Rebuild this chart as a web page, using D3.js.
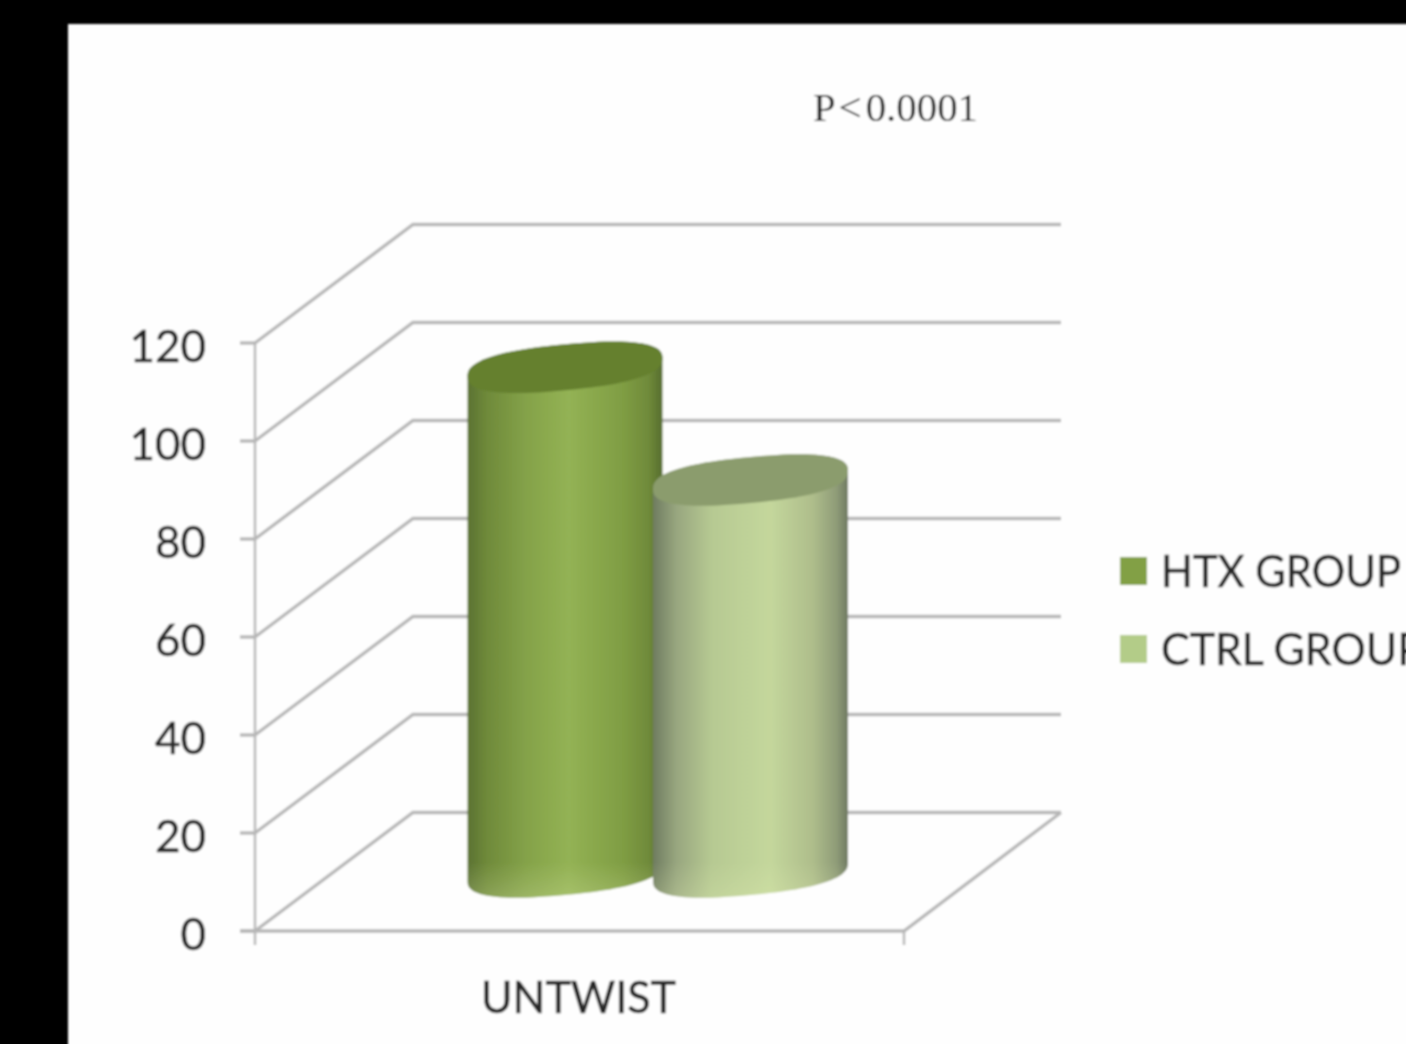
<!DOCTYPE html>
<html><head><meta charset="utf-8">
<style>html,body{margin:0;padding:0;background:#000;overflow:hidden}svg{display:block}</style>
<script src="https://cdn.jsdelivr.net/npm/d3@7"></script></head>
<body><svg id="c" width="1406" height="1044"></svg>
<script>
const category = "UNTWIST";
const seriesNames = ["HTX GROUP", "CTRL GROUP"];
const seriesValues = [103, 80];
const tickValues = [0, 20, 40, 60, 80, 100, 120];
const annotation = "P < 0.0001";

const svg = d3.select("#c");
const defs = svg.append("defs");
defs.append("filter").attr("id","soft").attr("x","-5%").attr("y","-5%").attr("width","110%").attr("height","110%")
  .append("feGaussianBlur").attr("stdDeviation",0.8);
const palettes = [
  {stops:[[0,"#5b7232"],[.1,"#6f8a3a"],[.3,"#84a249"],[.52,"#93b254"],[.8,"#7f9d43"],[.93,"#6f8a3a"],[1,"#566d2e"]],top:"#65802f",swatch:"#82a045"},
  {stops:[[0,"#6f7c60"],[.12,"#98a67f"],[.3,"#b6c992"],[.6,"#c4d79c"],[.82,"#aebd8b"],[.94,"#8f9c78"],[1,"#6f7a62"]],top:"#8b9c6d",swatch:"#b3cc88"}
];
palettes.forEach((p,i)=>{
  const g=defs.append("linearGradient").attr("id","g"+i).attr("x1",0).attr("x2",1).attr("y1",0).attr("y2",0);
  p.stops.forEach(s=>g.append("stop").attr("offset",s[0]).attr("stop-color",s[1]));
});
const rim=defs.append("linearGradient").attr("id","rim").attr("gradientUnits","userSpaceOnUse")
  .attr("x1",0).attr("x2",0).attr("y1",862).attr("y2",896);
rim.append("stop").attr("offset",0).attr("stop-color","#e6f2b8").attr("stop-opacity",0);
rim.append("stop").attr("offset",1).attr("stop-color","#e6f2b8").attr("stop-opacity",0.22);

svg.append("rect").attr("width",1406).attr("height",1044).attr("fill","#000");
const root = svg.append("g").attr("filter","url(#soft)");
root.append("rect").attr("x",68).attr("y",24).attr("width",1400).attr("height",1100).attr("fill","#fefefe");

const y = d3.scaleLinear().domain([0,120]).range([931,343]);
const depth = {dx:158, dy:-118.5};
const frontL = 255, frontR = 904;
const gridColor = "#b6b6b6";

const grid = root.append("g").attr("stroke",gridColor).attr("stroke-width",3.4).attr("fill","none");
grid.selectAll("path.g").data(tickValues).join("path").attr("class","g")
  .attr("d",v=>`M${frontL},${y(v)}L${frontL+depth.dx},${y(v)+depth.dy}L${frontR+depth.dx-1},${y(v)+depth.dy}`);
grid.append("line").attr("x1",frontL).attr("x2",frontL).attr("y1",y(120)).attr("y2",945).attr("stroke-width",2.5);
grid.append("path").attr("d",`M${frontL-15},${y(0)}L${frontR},${y(0)}L${frontR+depth.dx-1},${y(0)+depth.dy}`);
grid.append("line").attr("x1",frontR).attr("x2",frontR).attr("y1",y(0)).attr("y2",945).attr("stroke-width",2.5);
grid.selectAll("line.t").data(tickValues).join("line").attr("class","t")
  .attr("x1",frontL-15).attr("x2",frontL).attr("y1",v=>y(v)).attr("y2",v=>y(v));

// cylinders: end caps are sheared, slightly squared ellipses with rounded shoulders
const x = d3.scalePoint().domain(seriesNames).range([565,750.5]);
const capA=97.5, capB=23, shear=-0.093, capN=2.5;
const capPoint=t=>{
  const c=Math.cos(t), s=Math.sin(t);
  const px=capA*Math.sign(c)*Math.abs(c)**(2/capN);
  const py=capB*Math.sign(s)*Math.abs(s)**(2/capN);
  return [px,py+shear*px];
};
const steps=d3.range(0,49).map(k=>k/48*Math.PI);    // right tip -> bottom -> left tip
const lower=steps.map(capPoint);
const upper=steps.map(t=>capPoint(t+Math.PI));
const toPath=d3.line();
const baseY=872, unit=y(0)-y(1);
seriesNames.forEach((name,i)=>{
  const cx=x(name), topY=baseY-seriesValues[i]*unit;
  const body=[...lower.map(p=>[cx+p[0],baseY+p[1]]),...upper.map(p=>[cx+p[0],topY+p[1]])];
  const d=toPath(body)+"Z";
  root.append("path").attr("fill",`url(#g${i})`).attr("d",d);
  root.append("path").attr("fill","url(#rim)").attr("d",d);
  const cap=[...lower,...upper].map(p=>[cx+p[0],topY+p[1]]);
  root.append("path").attr("d",toPath(cap)+"Z").attr("fill",palettes[i].top);
});

// axis labels
const dark="#262626";
root.selectAll("text.y").data(tickValues).join("text").attr("class","y")
  .attr("x",206).attr("y",v=>y(v)+19).attr("text-anchor","end")
  .attr("font-family","Lato").attr("font-size",44).attr("fill",dark).attr("stroke",dark).attr("stroke-width",0.5).text(d=>d);
root.append("text").attr("x",481).attr("y",1013)
  .attr("font-family","Lato").attr("font-size",45).attr("fill",dark).attr("stroke",dark).attr("stroke-width",0.5)
  .attr("textLength",195).attr("lengthAdjust","spacingAndGlyphs").text(category);
root.append("text").attr("x",813).attr("y",121)
  .attr("font-family","Liberation Serif").attr("font-size",41).attr("fill","#111").attr("word-spacing",-6)
  .attr("textLength",165).attr("lengthAdjust","spacingAndGlyphs").text(annotation);

// legend
const legY = d3.scalePoint().domain(seriesNames).range([571,649]);
const legLen = d3.scaleOrdinal().domain(seriesNames).range([240,262]);
seriesNames.forEach((name,i)=>{
  root.append("rect").attr("x",1120).attr("y",legY(name)-14).attr("width",27).attr("height",28).attr("fill",palettes[i].swatch);
  root.append("text").attr("x",1161).attr("y",legY(name)+16).attr("font-family","Lato").attr("font-size",45)
    .attr("fill",dark).attr("stroke",dark).attr("stroke-width",0.5)
    .attr("textLength",legLen(name)).attr("lengthAdjust","spacingAndGlyphs").text(name);
});
</script></body></html>
